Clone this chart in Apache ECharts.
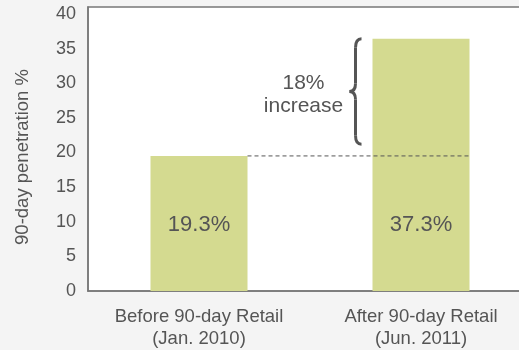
<!DOCTYPE html>
<html>
<head>
<meta charset="utf-8">
<script src="https://cdn.jsdelivr.net/npm/echarts@6/dist/echarts.min.js"></script>
<style>
  html, body { margin: 0; padding: 0; background: #f4f4f4; overflow: hidden; }
  #chart { width: 532px; height: 350px; }
</style>
</head>
<body>
<div id="chart"></div>
<script>
const categories = ['Before 90-day Retail\n(Jan. 2010)', 'After 90-day Retail\n(Jun. 2011)'];
const barValues = [19.5, 36.4];
const barLabels = ['19.3%', '37.3%'];
const yTicks = { min: 0, max: 41, interval: 5 };
const yTitle = '90-day penetration %';
const braceText = '18%\nincrease';
const braceRange = [21.2, 36.4];

const FONT = 'Liberation Sans';
const TEXT = '#555';
const BAR_W = 97;

const chart = echarts.init(document.getElementById('chart'));

chart.setOption({
    backgroundColor: '#f4f4f4',
    textStyle: { fontFamily: FONT },
    animation: false,
    grid: {
        left: 88, right: 0, top: 7, bottom: 59,
        show: true, backgroundColor: '#fff', borderColor: '#777', borderWidth: 1.5
    },
    xAxis: {
        type: 'category',
        data: categories,
        axisLine: { lineStyle: { color: '#777', width: 1.5 } },
        axisTick: { show: false },
        axisLabel: { color: TEXT, fontSize: 18.5, lineHeight: 22, margin: 15 }
    },
    yAxis: {
        type: 'value',
        min: yTicks.min, max: yTicks.max, interval: yTicks.interval,
        axisLine: { show: true, lineStyle: { color: '#777', width: 1.5 } },
        axisTick: { show: false },
        splitLine: { show: false },
        axisLabel: { color: TEXT, fontSize: 18, margin: 12, showMaxLabel: false,
            formatter: v => (v % 5 === 0 ? String(v) : '') }
    },
    series: [{
        type: 'bar',
        data: barValues,
        barWidth: BAR_W,
        itemStyle: { color: '#d4da90' },
        label: {
            show: true,
            position: 'insideBottom',
            distance: 55,
            color: TEXT,
            fontSize: 22,
            formatter: p => barLabels[p.dataIndex]
        }
    }]
});

// annotation: dashed reference line, brace, y title
const p0 = chart.convertToPixel({ gridIndex: 0 }, [0, barValues[0]]);
const p1 = chart.convertToPixel({ gridIndex: 0 }, [1, barValues[1]]);
const yLow = chart.convertToPixel({ gridIndex: 0 }, [1, braceRange[0]])[1];
const yTop = chart.convertToPixel({ gridIndex: 0 }, [1, braceRange[1]])[1];
const xB = p1[0] - BAR_W / 2 - 17;
const yMid = (yTop + yLow) / 2;
const braceStyle = { fill: null, stroke: '#555', lineWidth: 3 };

function curve(x1, y1, cx, cy, x2, y2) {
    return { type: 'bezierCurve', z: 10,
        shape: { x1: x1, y1: y1, cpx1: cx, cpy1: cy, x2: x2, y2: y2 },
        style: braceStyle };
}
function seg(x1, y1, x2, y2) {
    return { type: 'line', z: 10, shape: { x1: x1, y1: y1, x2: x2, y2: y2 }, style: braceStyle };
}

chart.setOption({
    graphic: [
        {
            type: 'line', z: 10,
            shape: { x1: p0[0] + BAR_W / 2, y1: p0[1], x2: p1[0] + BAR_W / 2, y2: p0[1] },
            style: { stroke: '#555', lineWidth: 1, lineDash: [4, 3] }
        },
        curve(xB + 6, yTop, xB, yTop, xB, yTop + 9),
        seg(xB, yTop + 9, xB, yMid - 8),
        curve(xB, yMid - 8, xB, yMid, xB - 6, yMid),
        curve(xB - 6, yMid, xB, yMid, xB, yMid + 8),
        seg(xB, yMid + 8, xB, yLow - 9),
        curve(xB, yLow - 9, xB, yLow, xB + 6, yLow),
        {
            type: 'text', z: 10,
            x: xB - 52, y: yMid + 3,
            style: {
                text: braceText, fill: TEXT, font: '21px ' + FONT,
                align: 'center', verticalAlign: 'middle', lineHeight: 23
            }
        },
        {
            type: 'text', z: 10,
            x: 23, y: 157, rotation: Math.PI / 2,
            style: {
                text: yTitle, fill: TEXT, font: '18.5px ' + FONT,
                align: 'center', verticalAlign: 'middle'
            }
        }
    ]
});
</script>
</body>
</html>
